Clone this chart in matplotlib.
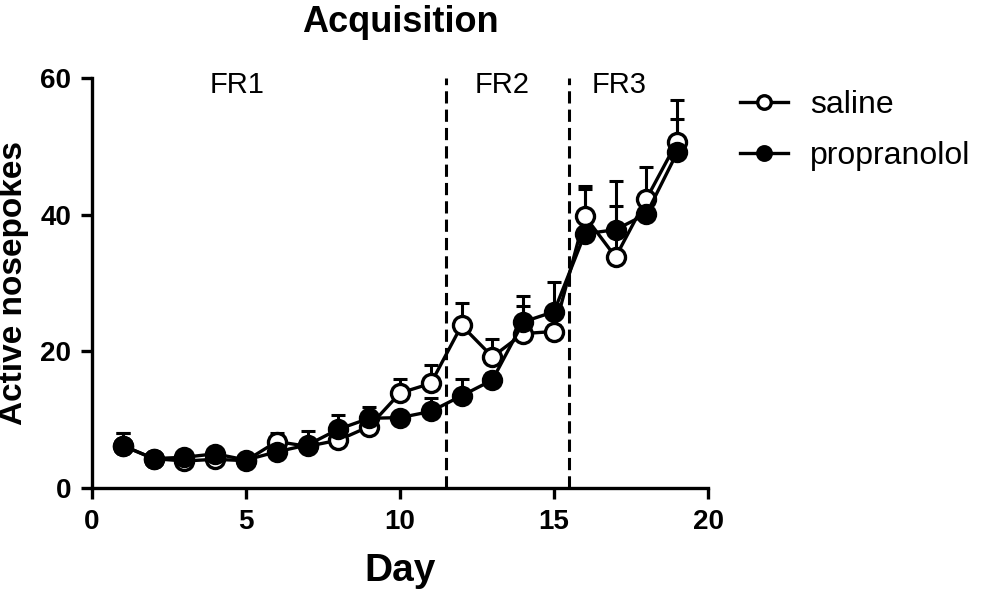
import matplotlib
matplotlib.use("Agg")
import matplotlib.pyplot as plt
import numpy as np

plt.rcParams['font.family'] = ['Liberation Sans', 'DejaVu Sans']

days = list(range(1, 20))
saline_mean = [6.2, 4.3, 3.95, 4.2, 4.0, 6.8, 6.1, 7.0, 9.0, 13.9, 15.3, 23.8, 19.2, 22.6, 22.9, 39.8, 33.8, 42.3, 50.7]
saline_sem = [1.8, 0.5, 0.5, 0.5, 0.5, 1.3, 1.0, 1.5, 1.5, 2.0, 2.7, 3.3, 2.6, 4.0, 1.0, 4.4, 7.5, 4.7, 6.1]
prop_mean = [6.2, 4.3, 4.5, 5.0, 4.1, 5.3, 6.3, 8.6, 10.2, 10.3, 11.2, 13.5, 15.8, 24.3, 25.8, 37.2, 37.8, 40.1, 49.1]
prop_sem = [1.8, 0.4, 0.5, 0.5, 0.5, 1.0, 2.0, 2.1, 1.7, 0.8, 2.0, 2.5, 1.0, 3.8, 4.3, 6.6, 7.2, 2.0, 4.9]
phase_bounds = [11.5, 15.5]
phase_labels = ["FR1", "FR2", "FR3"]
phase_label_x = [4.7, 13.3, 17.1]

fig = plt.figure(figsize=(9.81, 5.93), dpi=100)
ax = fig.add_axes([92/981, 1-488/593, (708-92)/981, (488-78)/593])

lw = 2.4
for mean, sem, face, lab in [(saline_mean, saline_sem, 'white', 'saline'),
                             (prop_mean, prop_sem, 'black', 'propranolol')]:
    m = np.array(mean); s = np.array(sem)
    ax.errorbar(days, m, yerr=[np.zeros_like(s), s], fmt='none', ecolor='black',
                elinewidth=2.2, capsize=5, capthick=2.2, zorder=2)
    ax.plot(days, m, '-o', color='black', lw=lw, markersize=13, markerfacecolor=face,
            markeredgecolor='black', markeredgewidth=2.4, label=lab, zorder=3)

for xb in phase_bounds:
    ax.plot([xb, xb], [0, 60], ls=(0, (4, 2)), color='black', lw=2.2, clip_on=False, zorder=1)

for x, t in zip(phase_label_x, phase_labels):
    ax.text(x, 59.0, t, ha='center', va='center', fontsize=21)

ax.set_xlim(0, 20)
ax.set_ylim(0, 60)
ax.set_xticks([0, 5, 10, 15, 20])
ax.set_yticks([0, 20, 40, 60])
for sp in ['top', 'right']:
    ax.spines[sp].set_visible(False)
for sp in ['left', 'bottom']:
    ax.spines[sp].set_linewidth(2.4)
ax.tick_params(direction='out', length=8, width=2.4, labelsize=20, pad=7)
for lbl in ax.get_xticklabels() + ax.get_yticklabels():
    lbl.set_fontweight('bold')

ax.set_xlabel('Day', fontsize=28, fontweight='bold', labelpad=13)
ax.set_ylabel('Active nosepokes', fontsize=24, fontweight='bold', labelpad=8)
ax.set_title('Acquisition', fontsize=26, fontweight='bold', pad=33)

handles, labels = ax.get_legend_handles_labels()
fig.legend(handles, labels, loc='upper left', bbox_to_anchor=(740/981, 1-90/593),
           frameon=False, fontsize=23, markerscale=0.75, handlelength=1.5,
           handletextpad=0.7, labelspacing=0.65, borderpad=0, borderaxespad=0)

fig.savefig('out.png', dpi=100)
